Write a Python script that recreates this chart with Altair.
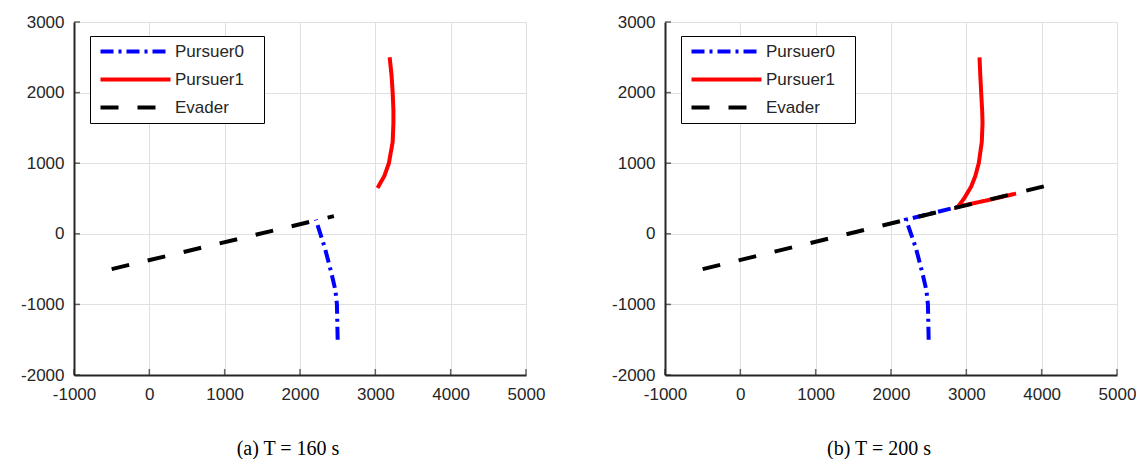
import altair as alt
import pandas as pd

X_TICKS = [-1000, 0, 1000, 2000, 3000, 4000, 5000]
Y_TICKS = [-2000, -1000, 0, 1000, 2000, 3000]
SERIES = ["Pursuer0", "Pursuer1", "Evader"]
COLORS = ["#0000ff", "#ff0000", "#000000"]
DASHES = [[13, 5, 3, 5], [1, 0], [18, 19]]

# ---- panel (a) T = 160 s ----
a_p0_x = [2500, 2490, 2470, 2420, 2330, 2210]
a_p0_y = [-1500, -1000, -800, -570, -200, 200]
a_p1_x = [3190, 3215, 3230, 3240, 3240, 3230, 3180, 3120, 3030]
a_p1_y = [2500, 2250, 2000, 1750, 1570, 1300, 1000, 820, 650]
a_ev_x = [-500, 2450]
a_ev_y = [-500, 250]

# ---- panel (b) T = 200 s ----
b_p0_x = [2500, 2490, 2470, 2420, 2330, 2200, 2900]
b_p0_y = [-1500, -1000, -800, -570, -200, 200, 385]
b_p1_x = [3175, 3185, 3197, 3210, 3215, 3205, 3165, 3120, 3065, 2970, 2890, 3300, 3660]
b_p1_y = [2500, 2250, 2000, 1750, 1570, 1300, 1000, 820, 670, 500, 385, 480, 570]
b_ev_x = [-500, 4120]
b_ev_y = [-500, 695]

W, H = 452, 353
FONT = "Liberation Sans"
AX = "#262626"


def make_df(p0x, p0y, p1x, p1y, evx, evy):
    rows = []
    for name, xs, ys in [("Pursuer0", p0x, p0y), ("Pursuer1", p1x, p1y), ("Evader", evx, evy)]:
        for i, (x, y) in enumerate(zip(xs, ys)):
            rows.append({"s": name, "x": x, "y": y, "i": i})
    return pd.DataFrame(rows)


xscale = alt.Scale(domain=[-1000, 5000], nice=False, zero=False)
yscale = alt.Scale(domain=[-2000, 3000], nice=False, zero=False)

legend = alt.Legend(
    title=None, orient="none", legendX=16, legendY=14,
    symbolType="M-1,0H13M28.6,0L28.6,0", symbolSize=100, symbolStrokeWidth=4,
    labelFont=FONT, labelFontSize=17, labelColor=AX, labelOffset=61,
    strokeColor="black", fillColor="white", padding=7, rowPadding=10,
)


def panel(df, caption):
    base = alt.Chart(df)
    layers = []
    for s in SERIES:
        layers.append(
            base.transform_filter(alt.datum.s == s).mark_line(strokeWidth=4, strokeCap="butt").encode(
                x=alt.X("x:Q", scale=xscale,
                        axis=alt.Axis(values=X_TICKS, title=None, grid=True, labelPadding=11,
                                      labelExpr="'' + datum.value", labelFlush=False)),
                y=alt.Y("y:Q", scale=yscale,
                        axis=alt.Axis(values=Y_TICKS, title=None, grid=True, labelPadding=10,
                                      labelExpr="'' + datum.value", labelFlush=False)),
                color=alt.Color("s:N", scale=alt.Scale(domain=SERIES, range=COLORS), legend=legend),
                strokeDash=alt.StrokeDash("s:N", scale=alt.Scale(domain=SERIES, range=DASHES), legend=legend),
                order=alt.Order("i:Q"),
            )
        )
    xt = alt.Chart(pd.DataFrame({"v": X_TICKS})).mark_tick(
        orient="vertical", size=6, thickness=1.5, color=AX).encode(
        x=alt.X("v:Q", scale=xscale), y=alt.value(H - 3))
    yt = alt.Chart(pd.DataFrame({"v": Y_TICKS})).mark_tick(
        orient="horizontal", size=6, thickness=1.5, color=AX).encode(
        y=alt.Y("v:Q", scale=yscale), x=alt.value(3))
    return alt.layer(*layers, xt, yt).properties(
        width=W, height=H,
        title=alt.TitleParams(caption, orient="bottom", font="Liberation Serif", fontSize=20,
                              fontWeight="normal", color="black", offset=37, dx=-12),
    )


left = panel(make_df(a_p0_x, a_p0_y, a_p1_x, a_p1_y, a_ev_x, a_ev_y), "(a) T = 160 s")
right = panel(make_df(b_p0_x, b_p0_y, b_p1_x, b_p1_y, b_ev_x, b_ev_y), "(b) T = 200 s")

chart = alt.hconcat(left, right, spacing=66).properties(
    padding={"left": 20, "top": 13, "right": 0, "bottom": 0}
).configure_view(stroke=None).configure_axis(
    domainColor=AX, domainWidth=2, gridColor="#e0e0e0", gridWidth=1,
    tickSize=0, labelFont=FONT, labelFontSize=17, labelColor=AX,
).resolve_legend(color="independent", strokeDash="independent")

chart.save("out.html", embed_options={"renderer": "svg", "actions": False})
